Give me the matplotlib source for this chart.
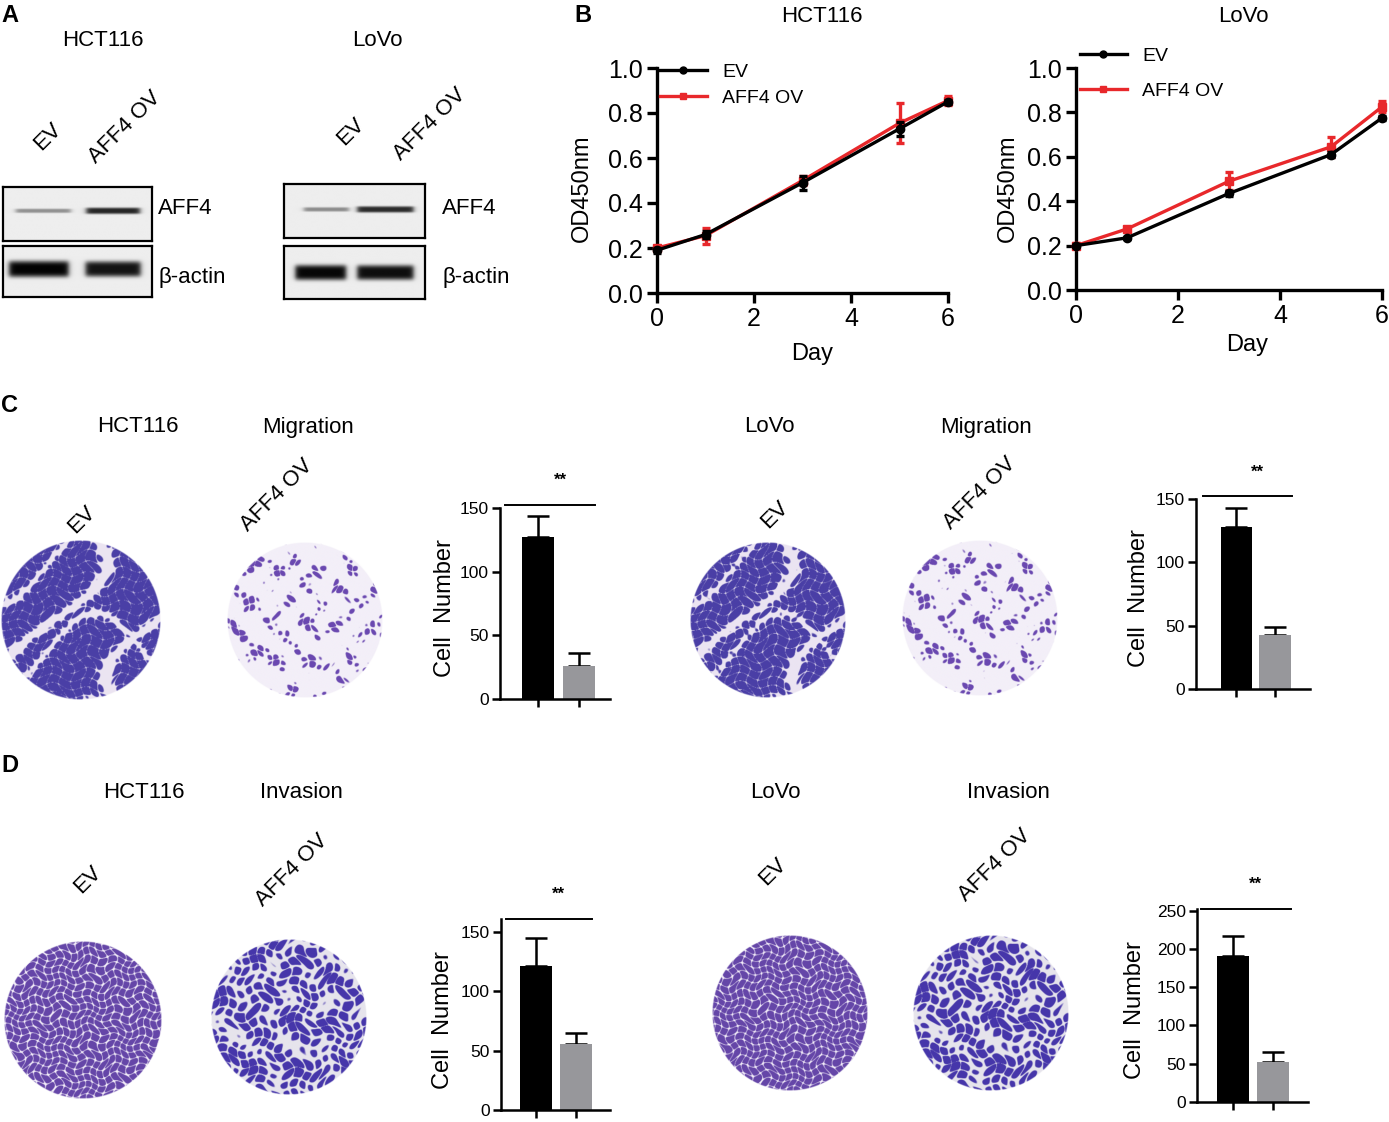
import numpy as np
import matplotlib
matplotlib.use('Agg')
import matplotlib.pyplot as plt
from matplotlib.lines import Line2D

plt.rcParams['font.family'] = ['Liberation Sans', 'DejaVu Sans']

W, H = 1389, 1122

# ---- data ----
groups = ['EV', 'AFF4 OV']

# western blot band strength (0..1) for EV / AFF4 OV
hct_aff4_band = [0.38, 0.82]
hct_actin_band = [0.97, 0.90]
lovo_aff4_band = [0.40, 0.80]
lovo_actin_band = [0.95, 0.92]

days = [0, 1, 3, 5, 6]
hct_ev = [0.19, 0.26, 0.49, 0.73, 0.85]
hct_ev_err = [0.01, 0.015, 0.03, 0.03, 0.01]
hct_ov = [0.20, 0.255, 0.50, 0.755, 0.855]
hct_ov_err = [0.01, 0.035, 0.02, 0.09, 0.02]
lovo_ev = [0.20, 0.235, 0.435, 0.61, 0.775]
lovo_ev_err = [0.005, 0.005, 0.01, 0.01, 0.01]
lovo_ov = [0.20, 0.275, 0.49, 0.645, 0.825]
lovo_ov_err = [0.01, 0.01, 0.04, 0.045, 0.025]

mig_hct = [127, 26]
mig_hct_err = [17, 10]
mig_lovo = [128, 43]
mig_lovo_err = [15, 6]
inv_hct = [121, 56]
inv_hct_err = [24, 9]
inv_lovo = [190, 52]
inv_lovo_err = [27, 13]

RED = '#e8282b'
GRAY = '#97979b'

fig = plt.figure(figsize=(W / 100, H / 100), dpi=100)


def px_axes(x0, y0, x1, y1):
    return fig.add_axes([x0 / W, 1 - y1 / H, (x1 - x0) / W, (y1 - y0) / H])


def txt(x, y, s, size=16, **kw):
    fig.text(x / W, 1 - y / H, s, fontsize=size, ha='center', va='center', **kw)


def lane_label(x, y, s):
    fig.text(x / W, 1 - y / H, s, fontsize=16, rotation=45, ha='center',
             va='center', rotation_mode='anchor')


# ---- A: western blots ----
def blot(box, lanes, widths, strengths, thick, yc):
    ax = px_axes(*box)
    yy, xx = np.mgrid[0:1:80j, 0:1:300j]
    img = np.full(xx.shape, 0.93)
    for c, bw, s in zip(lanes, widths, strengths):
        hx = 1 / (1 + np.exp(-(xx - (c - bw / 2)) / 0.01)) / (1 + np.exp((xx - (c + bw / 2)) / 0.01))
        t = thick * (0.5 + s)
        vy = np.exp(-((yy - yc) / t) ** 4)
        img = img - s * 0.95 * hx * vy
    ax.imshow(np.clip(img, 0, 1), cmap='gray', vmin=0, vmax=1, extent=(0, 1, 1, 0),
              aspect='auto', interpolation='bilinear')
    ax.set_xticks([])
    ax.set_yticks([])
    for sp in ax.spines.values():
        sp.set_linewidth(1.6)


blot((3, 187, 152, 241), [0.27, 0.74], [0.37, 0.36], hct_aff4_band, 0.045, 0.44)
blot((3, 246, 152, 297), [0.24, 0.74], [0.40, 0.37], hct_actin_band, 0.11, 0.45)
blot((284, 184, 425, 238), [0.30, 0.72], [0.32, 0.40], lovo_aff4_band, 0.045, 0.47)
blot((284, 246, 425, 299), [0.26, 0.72], [0.36, 0.40], lovo_actin_band, 0.10, 0.50)

txt(10, 15, 'A', size=17, weight='bold')
txt(103, 41, 'HCT116')
txt(377, 41, 'LoVo')
lane_label(48, 137, groups[0])
lane_label(125, 127, groups[1])
lane_label(351, 132, groups[0])
lane_label(430, 124, groups[1])
fig.text(158 / W, 1 - 208 / H, 'AFF4', fontsize=16, va='center')
fig.text(158 / W, 1 - 278 / H, 'β-actin', fontsize=16, va='center')
fig.text(442 / W, 1 - 208 / H, 'AFF4', fontsize=16, va='center')
fig.text(442 / W, 1 - 278 / H, 'β-actin', fontsize=16, va='center')


# ---- B: growth curves ----
def growth(box, ev, ev_err, ov, ov_err, leg_anchor, labelspacing):
    ax = px_axes(*box)
    ax.errorbar(days, ev, yerr=ev_err, color='black', lw=2.4, marker='o', ms=6,
                capsize=3, elinewidth=2.4, capthick=2.4, clip_on=False, zorder=4)
    ax.errorbar(days, ov, yerr=ov_err, color=RED, lw=2.4, marker='s', ms=6,
                capsize=3, elinewidth=2.4, capthick=2.4, clip_on=False, zorder=3)
    ax.set_xlim(0, 6)
    ax.set_ylim(0, 1.0)
    ax.set_xticks([0, 2, 4, 6])
    ax.set_yticks([0, 0.2, 0.4, 0.6, 0.8, 1.0])
    ax.set_yticklabels(['0.0', '0.2', '0.4', '0.6', '0.8', '1.0'])
    ax.spines['top'].set_visible(False)
    ax.spines['right'].set_visible(False)
    for s in ['left', 'bottom']:
        ax.spines[s].set_linewidth(2.4)
    ax.tick_params(width=2.4, length=7, labelsize=18, pad=3)
    handles = [Line2D([], [], color='black', lw=2.4, marker='o', ms=5),
               Line2D([], [], color=RED, lw=2.4, marker='s', ms=5)]
    ax.legend(handles, groups, loc='upper left',
              bbox_to_anchor=(leg_anchor[0] / W, 1 - leg_anchor[1] / H),
              bbox_transform=fig.transFigure, frameon=False, fontsize=14, handlelength=2.4,
              handletextpad=0.8, borderpad=0, borderaxespad=0, labelspacing=labelspacing)
    return ax


growth((657, 68, 948, 293), hct_ev, hct_ev_err, hct_ov, hct_ov_err, (660, 63), 0.45)
growth((1076, 68, 1382, 290), lovo_ev, lovo_ev_err, lovo_ov, lovo_ov_err, (1080, 47), 0.9)
txt(583, 16, 'B', size=17, weight='bold')
txt(822, 16, 'HCT116')
txt(1243, 16, 'LoVo')
txt(582, 188, 'OD450nm', size=17, rotation=90)
txt(1008, 188, 'OD450nm', size=17, rotation=90)
txt(812, 354, 'Day', size=17)
txt(1247, 345, 'Day', size=17)


# ---- microscopy fields (stylised, deterministic texture) ----
def field(cx, cy, r, freq, cover, dark, light, warp, cluster, channel):
    ax = px_axes(cx - r, cy - r, cx + r, cy + r)
    n = 320
    yy, xx = np.mgrid[-1:1:n * 1j, -1:1:n * 1j]
    f = freq
    a = f * xx + warp * np.sin(0.61 * f * yy + 1.3) + 0.9 * np.sin(0.23 * f * (xx + yy))
    b = f * yy + warp * np.sin(0.57 * f * xx + 0.4) + 0.9 * np.cos(0.19 * f * (xx - yy))
    v = np.sqrt(np.abs(np.sin(a) * np.sin(b)))
    g = 0.47 * f
    v = v + cluster * (np.sin(g * xx + 1.9 * np.sin(0.8 * g * yy + 0.7))
                       + np.sin(1.1 * g * yy + 1.6 * np.sin(0.9 * g * xx + 2.1))
                       + np.sin(0.8 * g * (xx - yy) + 1.3 * np.cos(0.6 * g * xx))) / 3
    ch1 = np.exp(-(np.sin(2.4 * xx + 1.6 * np.sin(2.2 * yy) + 0.8) / 0.22) ** 2)
    ch2 = np.exp(-(np.sin(2.9 * yy + 1.4 * np.sin(2.6 * xx + 1.1) + 2.0) / 0.18) ** 2)
    v = v - channel * np.maximum(ch1, 0.8 * ch2)
    rr = np.hypot(xx, yy)
    thr = np.quantile(v[rr < 1], 1 - cover)
    m = np.clip((v - thr) / 0.12 + 0.5, 0, 1)[..., None]
    d = np.array(matplotlib.colors.to_rgb(dark))
    li = np.array(matplotlib.colors.to_rgb(light))
    rgba = np.zeros((n, n, 4))
    rgba[..., :3] = li * (1 - m) + d * m
    rgba[..., 3] = np.clip((1 - rr) * n / 3, 0, 1)
    ax.imshow(rgba, interpolation='bilinear', extent=(-1, 1, -1, 1))
    ax.axis('off')


field(81, 620, 80, 26, 0.74, '#4a3fa6', '#ebe4f2', 1.0, 0.0, 1.2)
field(305, 620, 78, 30, 0.14, '#6a48b0', '#f3eff8', 0.8, 0.9, 0.0)
field(768, 620, 78, 26, 0.74, '#4a3fa6', '#ebe4f2', 1.0, 0.0, 1.0)
field(980, 618, 78, 30, 0.15, '#6a48b0', '#f3eff8', 0.8, 0.9, 0.0)
field(83, 1020, 79, 32, 0.80, '#6546a8', '#f5f0fa', 1.0, 0.0, 0.0)
field(289, 1017, 78, 24, 0.52, '#4636aa', '#e6e4ec', 1.0, 0.5, 0.0)
field(790, 1013, 78, 32, 0.82, '#6546a8', '#f5f0fa', 1.0, 0.0, 0.0)
field(991, 1013, 78, 24, 0.55, '#4636aa', '#e6e4ec', 1.0, 0.5, 0.0)


# ---- bar charts ----
def bars(box, vals, errs, ymax, yticks, xlim, sig_y, sig_x):
    ax = px_axes(*box)
    ax.bar([0, 1], vals, width=0.8, color=['black', GRAY], zorder=2)
    ax.errorbar([0, 1], vals, yerr=[[0, 0], errs], fmt='none', ecolor='black',
                elinewidth=1.8, capsize=8, capthick=1.8, zorder=1)
    ax.plot(sig_x, [sig_y, sig_y], color='black', lw=1.4, clip_on=False)
    ax.text(np.mean([0, 1]) + 0.05, sig_y + ymax * 0.13, '**', ha='center', va='center',
            fontsize=12, weight='bold')
    ax.set_xlim(*xlim)
    ax.set_ylim(0, ymax)
    ax.set_yticks(yticks)
    ax.set_xticks([0, 1])
    ax.set_xticklabels([])
    ax.spines['top'].set_visible(False)
    ax.spines['right'].set_visible(False)
    for s in ['left', 'bottom']:
        ax.spines[s].set_linewidth(1.8)
    ax.tick_params(width=1.8, length=6, labelsize=12.5, pad=2)
    return ax


bars((500, 508, 610, 699), mig_hct, mig_hct_err, 150, [0, 50, 100, 150],
     (-0.93, 1.76), 152, [-0.8, 1.4])
bars((1196, 499, 1310, 689), mig_lovo, mig_lovo_err, 150, [0, 50, 100, 150],
     (-1.03, 1.9), 152, [-0.85, 1.45])
bars((501, 919, 610, 1110), inv_hct, inv_hct_err, 161, [0, 50, 100, 150],
     (-0.875, 1.85), 161, [-0.75, 1.4])
bars((1197, 909, 1308, 1102), inv_lovo, inv_lovo_err, 252, [0, 50, 100, 150, 200, 250],
     (-0.9, 1.875), 252, [-0.8, 1.45])

txt(445, 608, 'Cell  Number', size=17, rotation=90)
txt(1139, 598, 'Cell  Number', size=17, rotation=90)
txt(443, 1020, 'Cell  Number', size=17, rotation=90)
txt(1135, 1010, 'Cell  Number', size=17, rotation=90)

# ---- C / D labels ----
txt(10, 405, 'C', size=17, weight='bold')
txt(138, 427, 'HCT116')
txt(308, 427, 'Migration')
txt(769, 427, 'LoVo')
txt(986, 427, 'Migration')
lane_label(82, 520, groups[0])
lane_label(277, 495, groups[1])
lane_label(775, 515, groups[0])
lane_label(980, 493, groups[1])

txt(10, 765, 'D', size=17, weight='bold')
txt(144, 793, 'HCT116')
txt(301, 793, 'Invasion')
txt(775, 793, 'LoVo')
txt(1008, 793, 'Invasion')
lane_label(88, 880, groups[0])
lane_label(292, 870, groups[1])
lane_label(773, 872, groups[0])
lane_label(995, 865, groups[1])

fig.savefig('out.png', dpi=100)
